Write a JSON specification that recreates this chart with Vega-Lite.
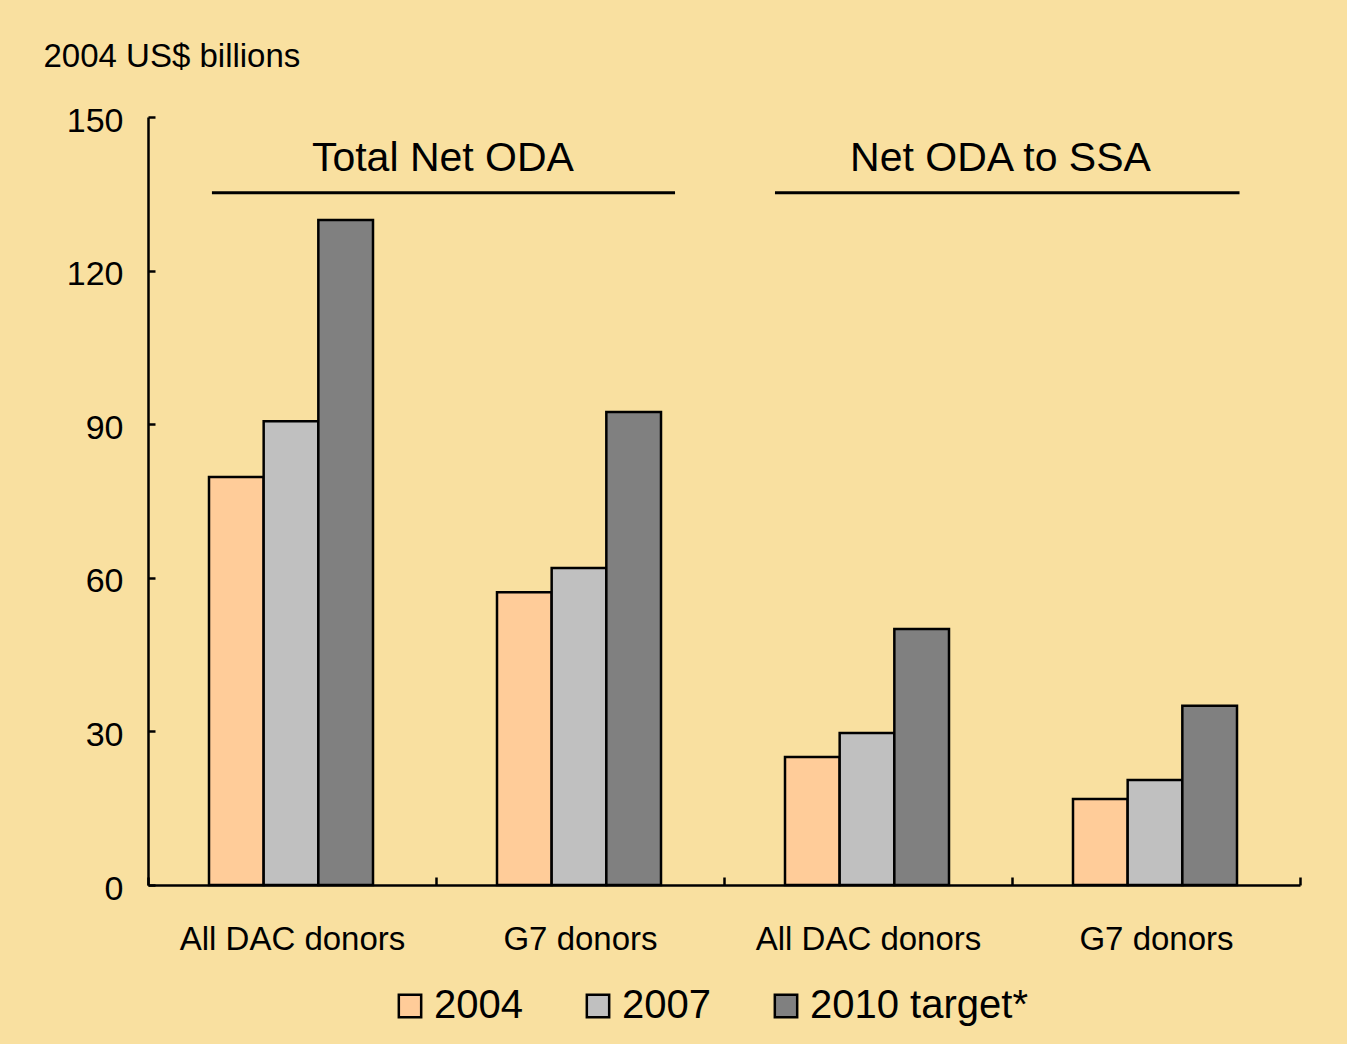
{
  "$schema": "https://vega.github.io/schema/vega-lite/v6.json",
  "width": 1152,
  "height": 768,
  "autosize": {"type": "none"},
  "padding": {"left": 148, "top": 117, "right": 47, "bottom": 159},
  "background": "#F9E0A0",
  "config": {
    "view": {"stroke": null},
    "font": "Liberation Sans",
    "axis": {"grid": false, "domainColor": "black", "tickColor": "black", "labelColor": "black", "titleColor": "black", "domainWidth": 2.5, "tickWidth": 2.5}
  },
  "datasets": {
    "bars": [
      {"key": "Total|All DAC donors", "year": "2004", "value": 79.7},
      {"key": "Total|All DAC donors", "year": "2007", "value": 90.6},
      {"key": "Total|All DAC donors", "year": "2010 target*", "value": 129.9},
      {"key": "Total|G7 donors", "year": "2004", "value": 57.2},
      {"key": "Total|G7 donors", "year": "2007", "value": 61.9},
      {"key": "Total|G7 donors", "year": "2010 target*", "value": 92.4},
      {"key": "SSA|All DAC donors", "year": "2004", "value": 25.0},
      {"key": "SSA|All DAC donors", "year": "2007", "value": 29.7},
      {"key": "SSA|All DAC donors", "year": "2010 target*", "value": 50.0},
      {"key": "SSA|G7 donors", "year": "2004", "value": 16.8},
      {"key": "SSA|G7 donors", "year": "2007", "value": 20.5},
      {"key": "SSA|G7 donors", "year": "2010 target*", "value": 35.0}
    ],
    "groups": [
      {"label": "Total Net ODA", "start": 0.222, "end": 1.83, "mid": 1.024, "ruleY": 135.2, "textY": 141.8},
      {"label": "Net ODA to SSA", "start": 2.177, "end": 3.79, "mid": 2.96, "ruleY": 135.2, "textY": 141.8}
    ]
  },
  "layer": [
    {
      "data": {"name": "bars"},
      "mark": {"type": "bar", "stroke": "black", "strokeWidth": 2.5},
      "encoding": {
        "x": {
          "field": "key", "type": "nominal",
          "sort": ["Total|All DAC donors", "Total|G7 donors", "SSA|All DAC donors", "SSA|G7 donors"],
          "scale": {"paddingInner": 0, "paddingOuter": 0},
          "axis": {"title": null, "labelExpr": "split(datum.label, '|')[1]", "labelAngle": 0, "labelFontSize": 33, "labelPadding": 46, "labelLimit": 0, "tickBand": "extent", "tickSize": -8, "labelBaseline": "top"}
        },
        "xOffset": {"field": "year", "type": "nominal", "scale": {"paddingInner": 0, "paddingOuter": 0, "range": [61, 225]}},
        "y": {
          "field": "value", "type": "quantitative",
          "scale": {"domain": [0, 150], "nice": false},
          "axis": {"values": [0, 30, 60, 90, 120, 150], "tickSize": -7, "labelPadding": 32, "labelOffset": 4, "labelFontSize": 34, "title": "2004 US$ billions", "titleAngle": 0, "titleAlign": "left", "titleBaseline": "alphabetic", "titleX": -105, "titleY": -51, "titleFontSize": 33, "titleFontWeight": "normal"}
        },
        "fill": {
          "field": "year", "type": "nominal",
          "scale": {"domain": ["2004", "2007", "2010 target*"], "range": ["#FFCC99", "#C0C0C0", "#808080"]},
          "legend": {"title": null, "orient": "none", "direction": "horizontal", "legendX": 242, "legendY": 869, "symbolType": "square", "symbolSize": 500, "symbolStrokeColor": "black", "symbolStrokeWidth": 2.5, "labelFontSize": 40, "labelColor": "black", "labelOffset": 4, "labelLimit": 0, "columnPadding": 55}
        }
      }
    },
    {
      "data": {"name": "groups"},
      "mark": {"type": "rule", "stroke": "black", "strokeWidth": 3},
      "encoding": {
        "x": {"field": "start", "type": "quantitative", "scale": {"domain": [0, 4], "nice": false, "zero": false}, "axis": null},
        "x2": {"field": "end"},
        "y": {"field": "ruleY", "type": "quantitative"}
      }
    },
    {
      "data": {"name": "groups"},
      "mark": {"type": "text", "fontSize": 41, "color": "black", "baseline": "middle", "align": "center"},
      "encoding": {
        "x": {"field": "mid", "type": "quantitative", "scale": {"domain": [0, 4], "nice": false, "zero": false}, "axis": null},
        "y": {"field": "textY", "type": "quantitative"},
        "text": {"field": "label"}
      }
    }
  ],
  "resolve": {"scale": {"x": "independent"}}
}
